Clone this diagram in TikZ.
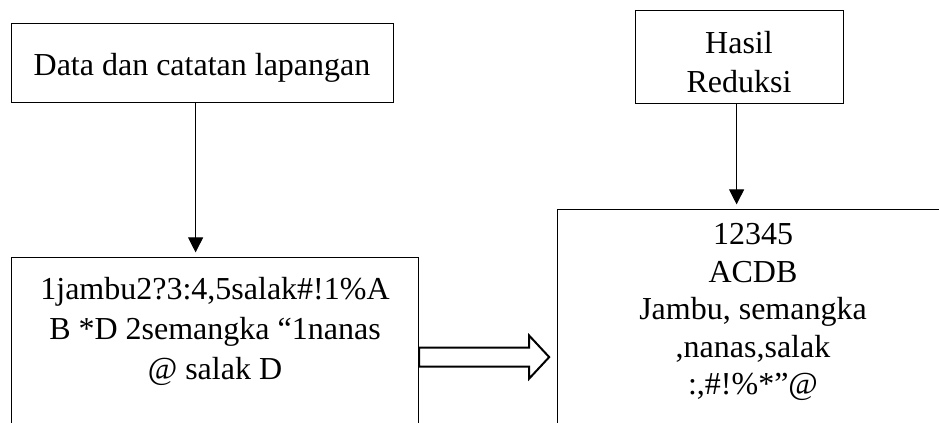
\documentclass[tikz,border=0pt]{standalone}
\usepackage{fontspec}
\setmainfont{Liberation Serif}
\usetikzlibrary{arrows.meta}

\begin{document}
\begin{tikzpicture}[x=0.5pt,y=-0.5pt,
  box/.style={draw=black,line width=0.6pt,inner sep=0pt,anchor=north west},
  label/.style={align=center,inner sep=0pt,font=\fontsize{16}{19.5}\selectfont},
  flow/.style={-{Triangle[length=7.5pt,width=7.5pt]},line width=0.5pt,shorten >=2.3pt},
  hollow/.style={draw=black,fill=white,line width=1pt,line join=miter}
]
  \useasboundingbox (0,0) rectangle (939,423);
  \clip (0,0) rectangle (939,423);
  % left column
  \draw (11,23) node[box,minimum width=191pt,minimum height=39.5pt] (field) {}
        (11,257) node[box,minimum width=203.5pt,minimum height=101.5pt] (raw) {};
  \node[label] (fieldtxt) at (202,68) {Data dan catatan lapangan};
  \node[label,font=\fontsize{16}{20}\selectfont] (rawtxt) at (215,331)
    {1jambu2?3:4,5salak\#!1\%A\\B *D 2semangka “1nanas\\@ salak D};
  % right column
  \draw (635,10) node[box,minimum width=104pt,minimum height=46.5pt] (result) {}
        (557,209) node[box,minimum width=196.5pt,minimum height=125.5pt] (reduced) {};
  \node[label] (resulttxt) at (739,62) {Hasil\\Reduksi};
  \node[label,font=\fontsize{16}{18.75}\selectfont] (reducedtxt) at (753,312)
    {12345\\ACDB\\Jambu, semangka\\,nanas,salak\\:,\#!\%*”@};
  % connectors
  \draw[flow] ([xshift=-3.5pt]field.south) -- ([xshift=-3.5pt]field.south |- raw.north);
  \draw[flow] ([xshift=-1.5pt]result.south) -- ([xshift=-1.5pt]result.south |- reduced.north);
  \coordinate (tail) at ([yshift=1pt]raw.east);
  \draw[hollow] (tail) ++(0,-9.5) -- ++(110,0) -- ++(0,-12) -- ++(20,21.5)
    -- ++(-20,21.5) -- ++(0,-12) -- ++(-110,0) -- cycle;
\end{tikzpicture}
\end{document}
